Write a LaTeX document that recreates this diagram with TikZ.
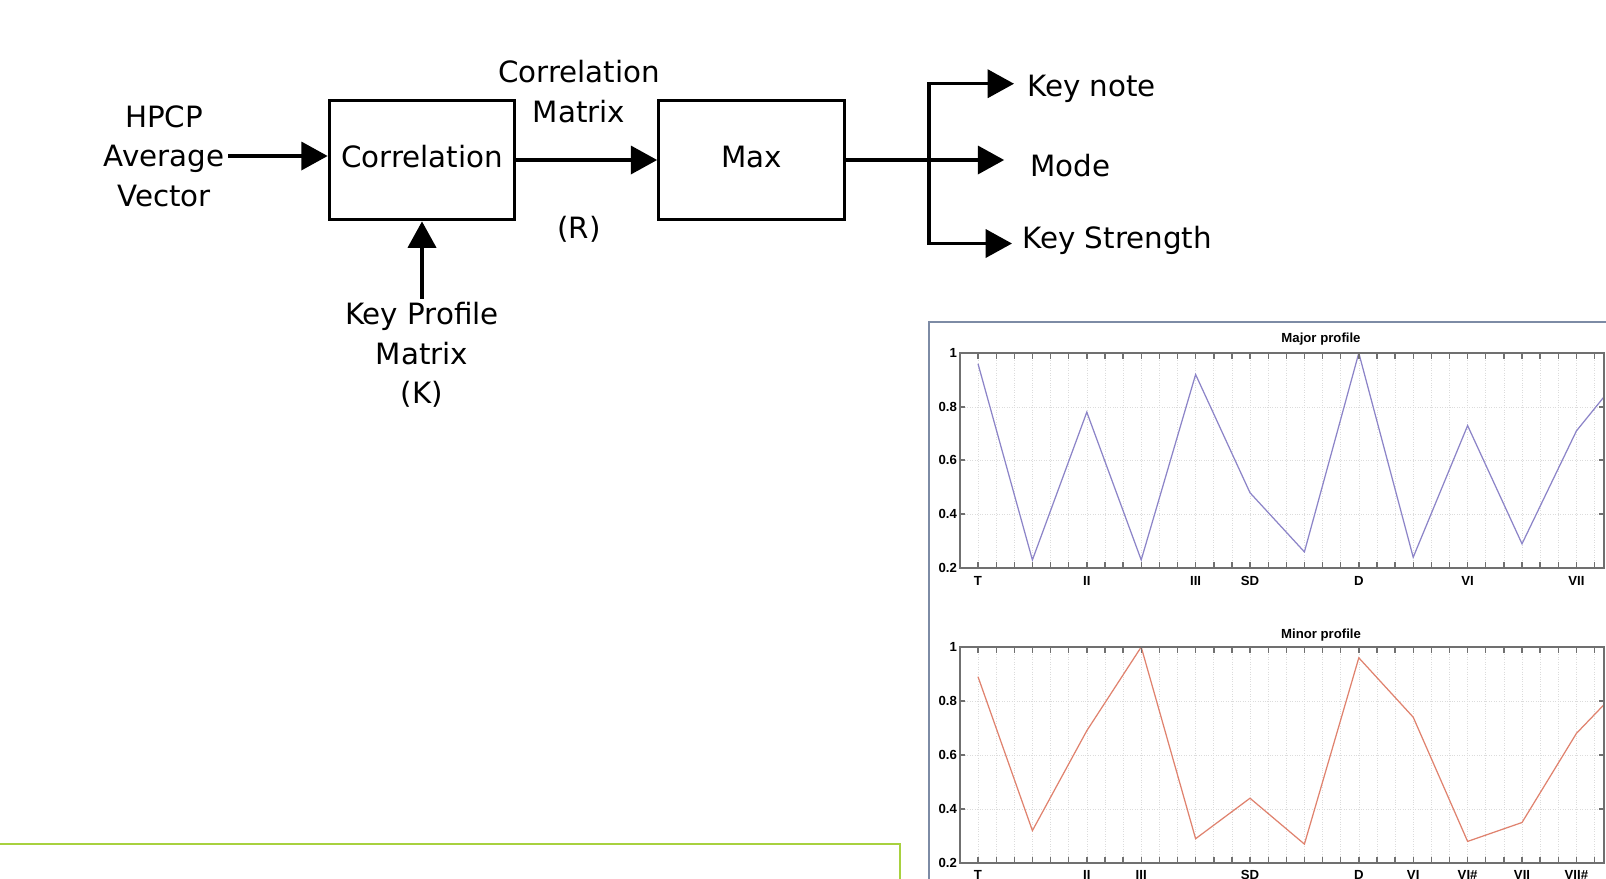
\documentclass[tikz,border=0pt]{standalone}
\usepackage{fontspec}
\setmainfont{DejaVu Sans}
\newfontfamily\plotfont{Liberation Sans}
\usetikzlibrary{calc, arrows.meta}

\definecolor{framegray}{HTML}{7D8BA5}
\definecolor{axisgray}{HTML}{707070}
\definecolor{gridgray}{HTML}{DCDCDC}
\definecolor{majorcol}{HTML}{8C84C8}
\definecolor{minorcol}{HTML}{E0826E}
\definecolor{slidegreen}{HTML}{A8D13F}

\tikzset{
    block/.style={draw, line width=1.9pt, minimum width=105.5pt,
        minimum height=68pt, inner sep=0pt,
        font=\fontsize{16.7}{22.4}\selectfont},
    txt/.style={align=center, inner sep=2pt,
        font=\fontsize{16.7}{22.4}\selectfont},
    outtxt/.style={anchor=west, inner sep=0pt,
        font=\fontsize{16.7}{22.4}\selectfont},
    flow/.style={line width=1.9pt, -{Triangle[length=15pt, width=16pt]}},
    gridline/.style={gridgray, densely dotted, line width=0.4pt},
    axisline/.style={axisgray, line width=0.8pt},
    plottxt/.style={inner sep=1pt, font=\plotfont\bfseries\fontsize{7.5}{8.5}\selectfont},
}

\begin{document}
\begin{tikzpicture}[x=0.02cm, y=-0.02cm]
    \useasboundingbox (0,0) rectangle (1606,879);
    \clip (0,0) rectangle (1606,879);

    % block diagram
    \node[block] (corr) at (422,160) {\raisebox{4pt}{Correlation}};
    \node[block] (max) at (751.5,160) {\raisebox{4pt}{Max}};

    \node[txt] (hpcp) at (164,156) {HPCP\\Average\\Vector};
    \node[txt] (keyprof) at (422,355) {Key Profile\\Matrix\\(K)};
    \node[txt] (corrmat) at (579,91.5) {Correlation\\Matrix};
    \node[txt] (rlabel) at (579,229) {(R)};

    \node[outtxt] (keynote) at (1027,89) {Key note};
    \node[outtxt] (mode) at (1030,166) {Mode};
    \node[outtxt] (keystr) at (1022,240) {Key Strength};

    \draw[flow] (hpcp.east) -- (hpcp.east -| corr.west);
    \draw[flow] (corr.east) -- (max.west);
    \draw[flow] (keyprof.north) -- (corr.south);

    \coordinate (split) at (929,160);
    \draw[flow, shorten >=14.7pt] (max.east) -- (max.east -| mode.west);
    \draw[flow, shorten >=7.4pt] (split) |- ([yshift=3pt]keynote.west);
    \draw[flow, shorten >=5.7pt] (split) |- ([yshift=-2pt]keystr.west);

    % profile plots
    \fill[white] (929,322) rectangle (1650,900);
    \draw[framegray, line width=1.1pt] (929,900) -- (929,322) -- (1650,322);

    % major profile
    \node[plottxt] (majtitle) at (1321,339) {Major profile};
    \foreach \i in {1,...,35}
        \draw[gridline] ({960+18.13*\i},353) -- ({960+18.13*\i},568);
    \foreach \y in {407,460,514}
        \draw[gridline] (960,\y) -- (1604,\y);
    \begin{scope}
        \clip (960,353) rectangle (1604,568);
        \draw[majorcol, line width=0.7pt] (978,363.75)
            \foreach \v [count=\k] in {0.23,0.78,0.23,0.92,0.48,0.26,1.0,0.24,0.73,0.29,0.71,0.96}
            { -- ({978+54.4*\k},{353+(1-\v)*268.75}) };
    \end{scope}
    \draw[axisline] (960,353) rectangle (1604,568);
    \foreach \i in {1,...,35} {
        \draw[axisline] ({960+18.13*\i},353) -- ++(0,6);
        \draw[axisline] ({960+18.13*\i},568) -- ++(0,-6);
    }
    \foreach \y/\t [count=\n] in {353/1,407/0.8,460/0.6,514/0.4,568/0.2} {
        \draw[axisline] (960,\y) -- ++(5,0);
        \draw[axisline] (1604,\y) -- ++(-5,0);
        \node[plottxt, anchor=east] (majy\n) at (959,\y) {\t};
    }
    \foreach \k/\t in {0/T,2/II,4/III,5/SD,7/D,9/VI,11/VII}
        \node[plottxt] (majx\k) at ({978+54.4*\k},581) {\t};

    % minor profile
    \node[plottxt] (mintitle) at (1321,635) {Minor profile};
    \foreach \i in {1,...,35}
        \draw[gridline] ({960+18.13*\i},647) -- ({960+18.13*\i},863);
    \foreach \y in {701,755,809}
        \draw[gridline] (960,\y) -- (1604,\y);
    \begin{scope}
        \clip (960,647) rectangle (1604,863);
        \draw[minorcol, line width=0.7pt] (978,676.7)
            \foreach \v [count=\k] in {0.32,0.69,1.0,0.29,0.44,0.27,0.96,0.74,0.28,0.35,0.68,0.89}
            { -- ({978+54.4*\k},{647+(1-\v)*270}) };
    \end{scope}
    \draw[axisline] (960,647) rectangle (1604,863);
    \foreach \i in {1,...,35} {
        \draw[axisline] ({960+18.13*\i},647) -- ++(0,6);
        \draw[axisline] ({960+18.13*\i},863) -- ++(0,-6);
    }
    \foreach \y/\t [count=\n] in {647/1,701/0.8,755/0.6,809/0.4,863/0.2} {
        \draw[axisline] (960,\y) -- ++(5,0);
        \draw[axisline] (1604,\y) -- ++(-5,0);
        \node[plottxt, anchor=east] (miny\n) at (959,\y) {\t};
    }
    \foreach \k/\t in {0/T,2/II,3/III,5/SD,7/D,8/VI,9/VI\#,10/VII,11/VII\#}
        \node[plottxt] (minx\k) at ({978+54.4*\k},875) {\t};

    % lower frame
    \draw[slidegreen, line width=1.5pt] (-10,844) -- (900,844) -- (900,900);
\end{tikzpicture}
\end{document}
